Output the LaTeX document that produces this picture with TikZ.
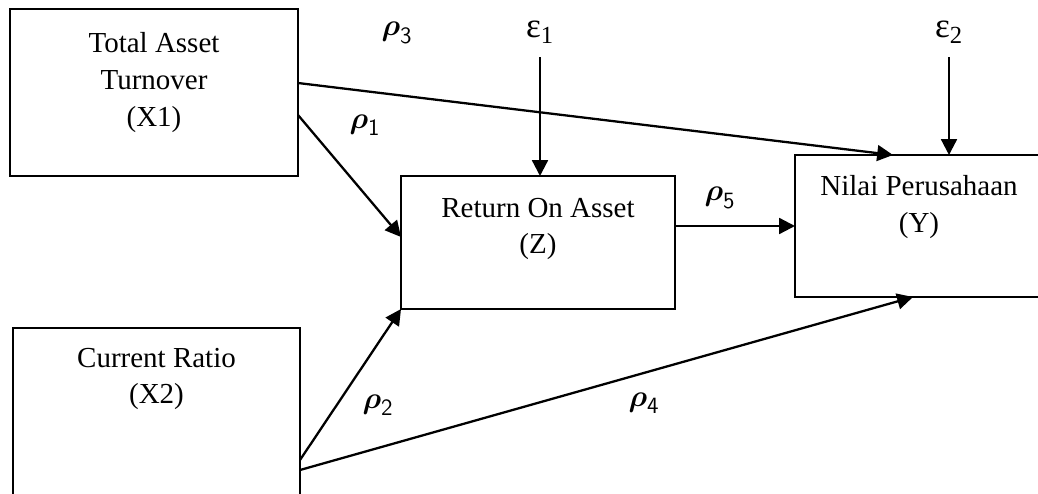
\documentclass[tikz,border=0pt]{standalone}
\usepackage{amsmath}
\usepackage{fontspec}
\setmainfont{Liberation Serif}
\usetikzlibrary{arrows.meta,positioning}

\begin{document}
\begin{tikzpicture}[
    kotak/.style={draw, line width=0.85pt, inner sep=0pt, outer sep=0pt},
    teks/.style={align=center, inner sep=0pt, font=\fontsize{16.5}{21}\selectfont},
    koef/.style={inner sep=1pt, font=\fontsize{19}{22}\selectfont},
    galat/.style={inner sep=1pt, font=\fontsize{20}{22}\selectfont},
    panah/.style={line width=1.3pt, -{Triangle[length=9pt,width=9pt]}}
  ]
  \useasboundingbox (0,0) rectangle (20.76,9.86);
  \clip (0,0) rectangle (20.76,9.86);

  % Kotak variabel
  \node[kotak, minimum width=5.76cm, minimum height=3.34cm] (x1) at (3.08,8.01) {};
  \node[kotak, minimum width=5.74cm, minimum height=3.64cm] (x2) at (3.13,1.48) {};
  \node[kotak, minimum width=5.48cm, minimum height=2.66cm] (z) at (10.76,5.01) {};
  \node[kotak, minimum width=4.96cm, minimum height=2.84cm] (y) at (18.38,5.34) {};

  % Nama variabel
  \node[teks, below=0.46cm of x1.north] (x1t) {Total Asset\\Turnover\\(X1)};
  \node[teks, below=0.39cm of x2.north] (x2t) {Current Ratio\\(X2)};
  \node[teks, below=0.43cm of z.north] (zt) {Return On Asset\\(Z)};
  \node[teks, below=0.41cm of y.north] (yt) {Nilai Perusahaan\\(Y)};

  % Galat
  \node[galat] (e1) at (10.8,9.22) {ε\textsubscript{1}};
  \node[galat] (e2) at (18.98,9.22) {ε\textsubscript{2}};

  % Koefisien jalur
  \node[koef] (p1) at (7.3,7.36) {$\boldsymbol{\rho}_{\mathsf{1}}$};
  \node[koef] (p2) at (7.56,1.76) {$\boldsymbol{\rho}_{\mathsf{2}}$};
  \node[koef] (p3) at (7.94,9.2) {$\boldsymbol{\rho}_{\mathsf{3}}$};
  \node[koef] (p4) at (12.88,1.8) {$\boldsymbol{\rho}_{\mathsf{4}}$};
  \node[koef] (p5) at (14.4,5.9) {$\boldsymbol{\rho}_{\mathsf{5}}$};

  % Panah
  \draw[panah] ([yshift=0.19cm]x1.east) -- ([xshift=-0.52cm]y.north);
  \draw[panah] ([yshift=-0.45cm]x1.east) -- ([yshift=0.11cm]z.west);
  \draw[panah] ([yshift=-0.82cm]x2.east) -- (z.south west);
  \draw[panah] ([yshift=-1.02cm]x2.east) -- ([xshift=-0.12cm]y.south);
  \draw[panah] (z.east |- y.west) -- (y.west);
  \draw[panah] ([yshift=-0.5cm]e1.center) -- (e1 |- z.north);
  \draw[panah] ([yshift=-0.5cm]e2.center) -- (e2 |- y.north);
\end{tikzpicture}
\end{document}
